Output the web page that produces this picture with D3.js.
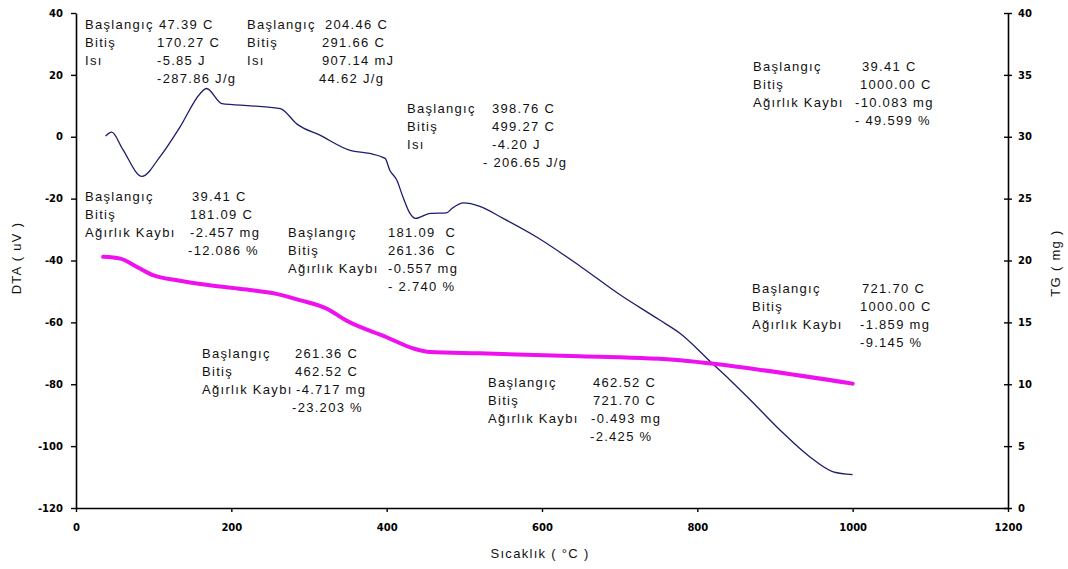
<!DOCTYPE html>
<html>
<head>
<meta charset="utf-8">
<script src="https://cdn.jsdelivr.net/npm/d3@7"></script>
<style>
  body { margin: 0; background: #fff; }
  svg text { font-family: "Liberation Sans", Arial, sans-serif; }
  .note { font-size: 13px; letter-spacing: 1.3px; fill: #111; }
  .tick text { font-family: "DejaVu Sans", sans-serif; font-weight: bold; font-size: 10px; fill: #000; }
</style>
</head>
<body>
<div id="chart"></div>
<script>
// DTA curve (left axis, uV)
const dtaTemp  = [38, 46, 60, 85, 108, 134, 160, 168, 188, 202, 232, 263, 285, 314, 353, 378, 398, 404, 413, 421, 430, 437, 456, 477, 484, 499, 520, 550, 593, 650, 700, 750, 778, 818, 842, 868, 906, 945, 975, 1000];
const dtaValue = [0.2, 1.5, -4, -12.8, -6.5, 3.2, 14, 15.6, 10.7, 10.4, 9.9, 9.1, 4.0, 0.5, -4.4, -5.4, -7, -10.8, -14, -19.5, -24.8, -26.4, -24.8, -24.6, -23.2, -21.4, -22.5, -26.4, -32.4, -42, -51, -59, -63.6, -73, -78.6, -85, -94.7, -103.5, -108.3, -109.2];

// TG curve (right axis, mg)
const tgTemp  = [35, 57, 78, 100, 130, 172, 220, 258, 288, 323, 348, 400, 434, 456, 520, 649, 778, 818, 1000];
const tgValue = [20.3, 20.15, 19.5, 18.8, 18.4, 18.0, 17.65, 17.3, 16.8, 16.1, 15.15, 13.8, 12.9, 12.6, 12.5, 12.26, 11.94, 11.67, 10.05];

const xTicks  = [0, 200, 400, 600, 800, 1000, 1200];
const yTicksL = [40, 20, 0, -20, -40, -60, -80, -100, -120];
const yTicksR = [0, 5, 10, 15, 20, 25, 30, 35, 40];

// annotation texts
const noteLabels = [
  ["Başlangıç", "Bitiş", "Isı", ""],
  ["Başlangıç", "Bitiş", "Isı", ""],
  ["Başlangıç", "Bitiş", "Isı", ""],
  ["Başlangıç", "Bitiş", "Ağırlık Kaybı", ""],
  ["Başlangıç", "Bitiş", "Ağırlık Kaybı", ""],
  ["Başlangıç", "Bitiş", "Ağırlık Kaybı", ""],
  ["Başlangıç", "Bitiş", "Ağırlık Kaybı", ""],
  ["Başlangıç", "Bitiş", "Ağırlık Kaybı", ""],
  ["Başlangıç", "Bitiş", "Ağırlık Kaybı", ""]
];
const noteValues = [
  ["47.39 C", "170.27 C", "-5.85 J", "-287.86 J/g"],
  ["204.46 C", "291.66 C", "907.14 mJ", "44.62 J/g"],
  ["398.76 C", "499.27 C", "-4.20 J", "- 206.65 J/g"],
  ["39.41 C", "1000.00 C", "-10.083 mg", "- 49.599 %"],
  ["39.41 C", "181.09 C", "-2.457 mg", "-12.086 %"],
  ["181.09  C", "261.36  C", "-0.557 mg", "- 2.740 %"],
  ["261.36 C", "462.52 C", "-4.717 mg", "-23.203 %"],
  ["462.52 C", "721.70 C", "-0.493 mg", "-2.425 %"],
  ["721.70 C", "1000.00 C", "-1.859 mg", "-9.145 %"]
];
// where each block sits: label x, first row y, value x per row
const noteLayout = [
  {lx: 85,  y: 24,  vx: [159, 157, 157, 157]},
  {lx: 247, y: 24,  vx: [325, 322, 322, 319]},
  {lx: 407, y: 108, vx: [492, 492, 492, 483]},
  {lx: 753, y: 66,  vx: [862, 860, 855, 855]},
  {lx: 85,  y: 196, vx: [192, 190, 190, 188]},
  {lx: 288, y: 232, vx: [388, 388, 388, 388]},
  {lx: 202, y: 353, vx: [295, 295, 296, 292]},
  {lx: 488, y: 382, vx: [593, 593, 591, 590]},
  {lx: 752, y: 288, vx: [862, 860, 860, 860]}
];

const width = 1068, height = 569;
const margin = {left: 76, right: 60, top: 13, bottom: 61};

const svg = d3.select("#chart").append("svg")
  .attr("width", width)
  .attr("height", height);

const x = d3.scaleLinear().domain([0, 1200]).range([margin.left, width - margin.right]);
const yL = d3.scaleLinear().domain([-120, 40]).range([height - margin.bottom, margin.top]);
const yR = d3.scaleLinear().domain([0, 40]).range([height - margin.bottom, margin.top]);

const plain = d => String(d);

// axes
const axB = svg.append("g")
  .attr("transform", "translate(0," + (height - margin.bottom) + ")")
  .call(d3.axisBottom(x).tickValues(xTicks).tickFormat(plain).tickSize(4).tickPadding(12).tickSizeOuter(0));
const axL = svg.append("g")
  .attr("transform", "translate(" + margin.left + ",0)")
  .call(d3.axisLeft(yL).tickValues(yTicksL).tickFormat(plain).tickSize(5).tickPadding(8).tickSizeOuter(0));
const axR = svg.append("g")
  .attr("transform", "translate(" + (width - margin.right) + ",0)")
  .call(d3.axisRight(yR).tickValues(yTicksR).tickFormat(plain).tickSize(4).tickPadding(6).tickSizeOuter(0));
axR.selectAll(".tick line").attr("x1", -4);

[axB, axL, axR].forEach(a => {
  a.select(".domain").attr("stroke", "#000").attr("stroke-width", 1.6);
  a.selectAll(".tick line").attr("stroke", "#000").attr("stroke-width", 1.4);
});

// axis titles
svg.append("text")
  .attr("x", 540).attr("y", 558)
  .attr("text-anchor", "middle")
  .attr("class", "note")
  .attr("xml:space", "preserve")
  .text("Sıcaklık ( °C )");
svg.append("text")
  .attr("transform", "translate(21,258) rotate(-90)")
  .attr("text-anchor", "middle")
  .attr("class", "note")
  .attr("xml:space", "preserve")
  .text("DTA ( uV )");
svg.append("text")
  .attr("transform", "translate(1060,263) rotate(-90)")
  .attr("text-anchor", "middle")
  .attr("class", "note")
  .attr("xml:space", "preserve")
  .text("TG ( mg )");

// curves
const dtaLine = d3.line()
  .x((d, i) => x(dtaTemp[i]))
  .y(d => yL(d))
  .curve(d3.curveMonotoneX);
svg.append("path")
  .attr("d", dtaLine(dtaValue))
  .attr("fill", "none")
  .attr("stroke", "#1d1d6b")
  .attr("stroke-width", 1.3);

const tgLine = d3.line()
  .x((d, i) => x(tgTemp[i]))
  .y(d => yR(d))
  .curve(d3.curveMonotoneX);
svg.append("path")
  .attr("d", tgLine(tgValue))
  .attr("fill", "none")
  .attr("stroke", "#ee10ee")
  .attr("stroke-width", 4)
  .attr("stroke-linecap", "round");

// annotation blocks
const rowGap = 18;
noteLayout.forEach((b, i) => {
  const g = svg.append("g");
  noteLabels[i].forEach((t, r) => {
    g.append("text").attr("class", "note")
      .attr("x", b.lx).attr("y", b.y + r * rowGap + 5)
      .text(t);
  });
  noteValues[i].forEach((t, r) => {
    g.append("text").attr("class", "note")
      .attr("xml:space", "preserve")
      .attr("x", b.vx[r]).attr("y", b.y + r * rowGap + 5)
      .text(t);
  });
});
</script>
</body>
</html>
